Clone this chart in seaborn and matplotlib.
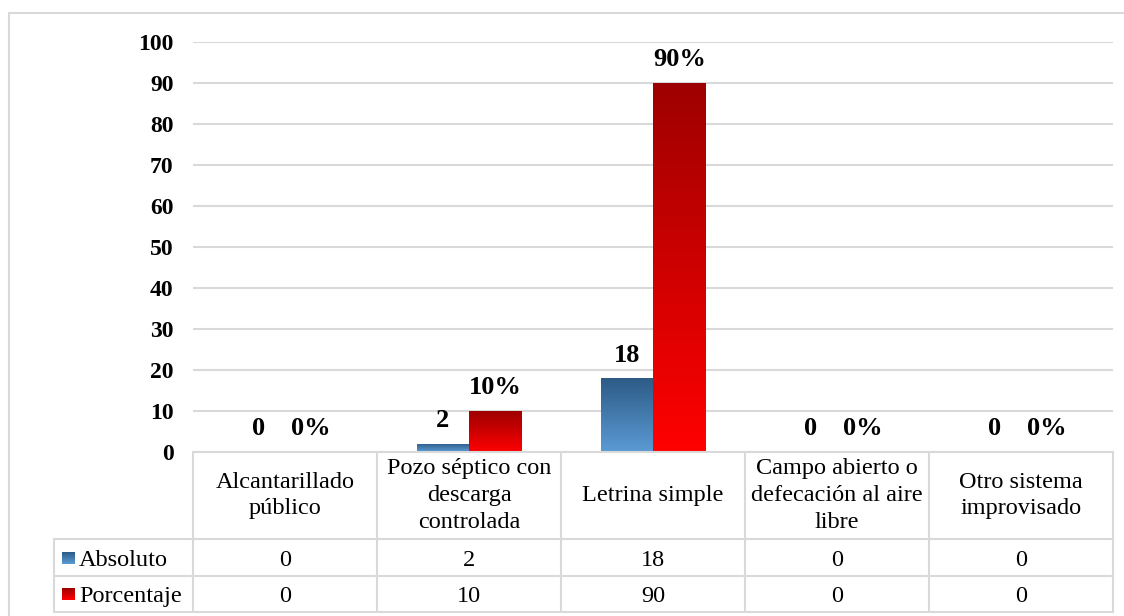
import numpy as np
import pandas as pd
import matplotlib
matplotlib.use("Agg")
import matplotlib.pyplot as plt
import seaborn as sns
from matplotlib.colors import LinearSegmentedColormap
from matplotlib.lines import Line2D
from matplotlib.transforms import blended_transform_factory

# --- data -------------------------------------------------------------
categories = [
    "Alcantarillado\npúblico",
    "Pozo séptico con\ndescarga\ncontrolada",
    "Letrina simple",
    "Campo abierto o\ndefecación al aire\nlibre",
    "Otro sistema\nimprovisado",
]
series_names = ["Absoluto", "Porcentaje"]
absoluto = [0, 2, 18, 0, 0]
porcentaje = [0, 10, 90, 0, 0]
yticks = list(range(0, 101, 10))

# --- styling ----------------------------------------------------------
sns.set_theme(style="white")
plt.rcParams["font.family"] = ["Liberation Serif", "DejaVu Serif"]
plt.rcParams["text.color"] = "black"
plt.rcParams["ytick.color"] = "black"

W, H = 1124, 616
fig = plt.figure(figsize=(W / 100, H / 100), dpi=100)
fig.patch.set_facecolor("white")


def fx(px):
    return px / W


def fy(py):
    return 1 - py / H


ax_left, ax_right, ax_top, ax_bottom = 193, 1113, 42, 452
ax = fig.add_axes([fx(ax_left), fy(ax_bottom), fx(ax_right - ax_left),
                   (ax_bottom - ax_top) / H])

df = pd.DataFrame({
    "categoria": categories * 2,
    "serie": [series_names[0]] * len(categories) + [series_names[1]] * len(categories),
    "valor": absoluto + porcentaje,
})

palette = {"Absoluto": "#4A7FB5", "Porcentaje": "#E00000"}
sns.barplot(data=df, x="categoria", y="valor", hue="serie", hue_order=series_names,
            order=categories, palette=palette, width=0.57, gap=0, legend=False,
            saturation=1, ax=ax)

grad_colors = {
    "Absoluto": ["#2D5B86", "#5B9BD5"],
    "Porcentaje": ["#9E0000", "#FF0000"],
}
cmaps = {k: LinearSegmentedColormap.from_list(k, v) for k, v in grad_colors.items()}
grad = np.linspace(0, 1, 256).reshape(-1, 1)

ax.set_xlim(-0.5, len(categories) - 0.5)
ax.set_ylim(0, 100)

# paint each bar with a vertical gradient (dark top -> light bottom)
for container, name, vals in zip(ax.containers, series_names, [absoluto, porcentaje]):
    for bar, v in zip(container, vals):
        x0 = bar.get_x()
        w = bar.get_width()
        h = bar.get_height()
        if h > 0:
            bar.set_facecolor("none")
            bar.set_edgecolor("none")
            im = ax.imshow(grad, cmap=cmaps[name], aspect="auto",
                           extent=(x0, x0 + w, 0, h), origin="upper", zorder=2)
            im.set_clip_path(bar)
        label = f"{v}" if name == "Absoluto" else f"{v}%"
        ax.annotate(label, (x0 + w / 2, h), xytext=(0, 12), textcoords="offset points",
                    ha="center", va="baseline", fontsize=19, fontweight="bold",
                    color="black")

ax.set_xlim(-0.5, len(categories) - 0.5)
ax.set_ylim(0, 100)
ax.set_yticks(yticks)
ax.set_yticklabels([str(t) for t in yticks], fontsize=17, fontweight="bold",
                   color="black")
ax.tick_params(axis="y", length=0, pad=14)
ax.set_xticks([])
ax.set_xlabel("")
ax.set_ylabel("")
ax.yaxis.grid(True, color="#D9D9D9", linewidth=1.5)
ax.set_axisbelow(True)
for s in ax.spines.values():
    s.set_visible(False)

# --- data table beneath the plot --------------------------------------
line_col = "#D9D9D9"
tr = blended_transform_factory(ax.transData, fig.transFigure)
row_y = [452, 539, 576, 612]
n = len(categories)
xb = [i - 0.5 for i in range(n + 1)]
x_leftcol = fx(54)

# horizontal lines
fig.add_artist(Line2D([xb[0], xb[-1]], [fy(row_y[0])] * 2, transform=tr,
                      color=line_col, lw=1.5))
for yy in row_y[1:]:
    fig.add_artist(Line2D([x_leftcol, fx(ax_right)], [fy(yy)] * 2,
                          transform=fig.transFigure, color=line_col, lw=1.5))
# vertical lines
for xv in xb:
    fig.add_artist(Line2D([xv, xv], [fy(row_y[0]), fy(row_y[-1])], transform=tr,
                          color=line_col, lw=1.5))
fig.add_artist(Line2D([x_leftcol, x_leftcol], [fy(row_y[1]), fy(row_y[-1])],
                      transform=fig.transFigure, color=line_col, lw=1.5))

# header texts
for i, cat in enumerate(categories):
    fig.text(i, fy((row_y[0] + row_y[1]) / 2), cat, transform=tr, ha="center",
             va="center", fontsize=17.5, linespacing=1.35, color="black")

# value rows with legend keys
for r, (name, vals) in enumerate(zip(series_names, [absoluto, porcentaje])):
    yc = (row_y[r + 1] + row_y[r + 2]) / 2
    key_ax = fig.add_axes([fx(62), fy(yc + 6), fx(12), 12 / H])
    key_ax.imshow(grad, cmap=cmaps[name], aspect="auto", extent=(0, 1, 0, 1))
    key_ax.set_axis_off()
    fig.text(fx(79), fy(yc), name, ha="left", va="center_baseline",
             fontsize=17.5, color="black")
    for i, v in enumerate(vals):
        fig.text(i, fy(yc), str(v), transform=tr, ha="center",
                 va="center_baseline", fontsize=17.5, color="black")

# outer chart frame (top and left edges)
fig.add_artist(Line2D([fx(9), 1], [fy(13), fy(13)], transform=fig.transFigure,
                      color=line_col, lw=1.5))
fig.add_artist(Line2D([fx(9), fx(9)], [fy(13), 0], transform=fig.transFigure,
                      color=line_col, lw=1.5))

fig.savefig("out.png", dpi=100, facecolor="white")
